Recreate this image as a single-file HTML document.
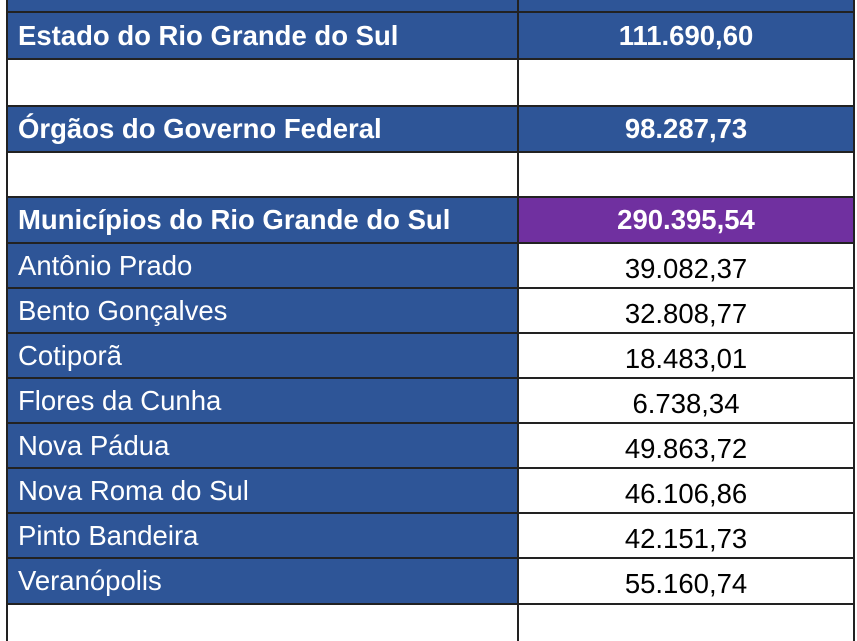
<!DOCTYPE html><html><head><style>
body{margin:0;width:857px;height:641px;background:#fff;position:relative;overflow:hidden;font-family:"Liberation Sans",Arial,sans-serif}
.c{position:absolute;box-sizing:border-box;display:flex;align-items:center}
.b{background:#2e5597;color:#fff}
.l{left:7px;width:512px;padding-left:11px}
.r{left:518px;width:336px;justify-content:center}
.bold{font-weight:bold;font-size:27.5px}
.n{font-size:27.5px;letter-spacing:0px}
.line{position:absolute;left:7px;width:847px;height:2px;background:#222}
.v{position:absolute;top:0;width:2px;height:641px;background:#222}
</style></head><body>
<div class="c b l" style="top:0;height:12px"></div>
<div class="c b r" style="top:0;height:12px"></div>

<div class="c b l bold" style="top:12px;height:47px">Estado do Rio Grande do Sul</div>
<div class="c b r bold" style="top:12px;height:47px">111.690,60</div>

<div class="c b l bold" style="top:106px;height:46px">Órgãos do Governo Federal</div>
<div class="c b r bold" style="top:106px;height:46px">98.287,73</div>

<div class="c b l bold" style="top:197px;height:46px">Municípios do Rio Grande do Sul</div>
<div class="c r bold" style="top:197px;height:46px;background:#7030a0;color:#fff">290.395,54</div>

<div class="c b l n" style="top:243px;height:45px">Antônio Prado</div>
<div class="c r n" style="top:246px;height:45px">39.082,37</div>
<div class="c b l n" style="top:288px;height:45px">Bento Gonçalves</div>
<div class="c r n" style="top:291px;height:45px">32.808,77</div>
<div class="c b l n" style="top:333px;height:45px">Cotiporã</div>
<div class="c r n" style="top:336px;height:45px">18.483,01</div>
<div class="c b l n" style="top:378px;height:45px">Flores da Cunha</div>
<div class="c r n" style="top:381px;height:45px">6.738,34</div>
<div class="c b l n" style="top:423px;height:45px">Nova Pádua</div>
<div class="c r n" style="top:426px;height:45px">49.863,72</div>
<div class="c b l n" style="top:468px;height:45px">Nova Roma do Sul</div>
<div class="c r n" style="top:471px;height:45px">46.106,86</div>
<div class="c b l n" style="top:513px;height:45px">Pinto Bandeira</div>
<div class="c r n" style="top:516px;height:45px">42.151,73</div>
<div class="c b l n" style="top:558px;height:46px">Veranópolis</div>
<div class="c r n" style="top:561px;height:46px">55.160,74</div>

<div class="line" style="top:11px"></div>
<div class="line" style="top:58px"></div>
<div class="line" style="top:105px"></div>
<div class="line" style="top:151px"></div>
<div class="line" style="top:196px"></div>
<div class="line" style="top:242px"></div>
<div class="line" style="top:287px"></div>
<div class="line" style="top:332px"></div>
<div class="line" style="top:377px"></div>
<div class="line" style="top:422px"></div>
<div class="line" style="top:467px"></div>
<div class="line" style="top:512px"></div>
<div class="line" style="top:557px"></div>
<div class="line" style="top:603px"></div>
<div class="v" style="left:6px"></div>
<div class="v" style="left:517px"></div>
<div class="v" style="left:853px"></div>
</body></html>
